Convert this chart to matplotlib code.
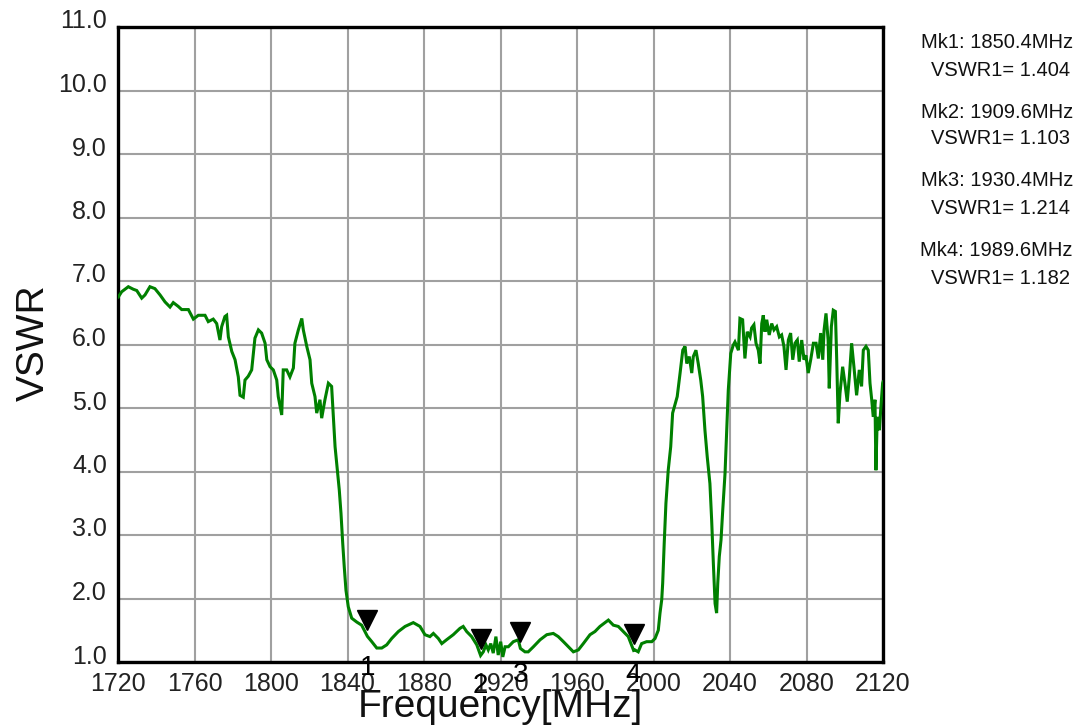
import matplotlib
matplotlib.use("Agg")
import matplotlib.pyplot as plt
import matplotlib.transforms as mtransforms

plt.rcParams['font.family'] = ['Liberation Sans', 'DejaVu Sans']

freq = [1720.2, 1721.9, 1725.4, 1728.0, 1729.8, 1732.4, 1734.1, 1736.7, 1739.3, 1742.0,
        1744.6, 1747.2, 1748.9, 1751.5, 1753.3, 1756.8, 1759.4, 1762.0, 1765.5, 1767.2,
        1769.8, 1771.6, 1773.3, 1774.2, 1775.9, 1776.8, 1777.7, 1779.5, 1781.2, 1782.9,
        1783.8, 1785.5, 1786.4, 1788.1, 1789.9, 1791.6, 1793.4, 1795.1, 1796.9, 1797.8,
        1799.5, 1801.2, 1803.0, 1803.8, 1805.6, 1806.4, 1808.2, 1809.9, 1811.7, 1812.5,
        1814.3, 1816.1, 1816.9, 1818.7, 1820.4, 1821.3, 1823.0, 1823.9, 1825.6, 1826.5,
        1828.2, 1830.0, 1831.7, 1832.6, 1833.5, 1834.7, 1835.7, 1836.6, 1837.5, 1838.3,
        1839.2, 1840.4, 1842.2, 1844.8, 1847.4, 1850.4, 1852.7, 1855.3, 1857.9, 1860.5,
        1863.1, 1866.6, 1870.1, 1874.4, 1877.9, 1880.5, 1883.1, 1884.9, 1887.5, 1889.3,
        1891.8, 1895.3, 1898.8, 1900.5, 1902.3, 1904.9, 1907.6, 1909.6, 1911.0, 1912.4,
        1913.6, 1914.9, 1916.2, 1917.6, 1918.8, 1920.1, 1921.2, 1922.4, 1924.1, 1926.7,
        1929.3, 1930.4, 1932.8, 1934.5, 1937.2, 1940.7, 1944.2, 1947.6, 1950.2, 1952.9,
        1955.5, 1958.1, 1960.7, 1963.3, 1966.8, 1969.4, 1972.0, 1974.6, 1976.4, 1979.0,
        1981.6, 1984.2, 1986.8, 1989.6, 1990.3, 1992.0, 1993.8, 1996.4, 1999.1, 2000.8,
        2002.5, 2003.4, 2004.3, 2004.8, 2005.6, 2006.5, 2007.7, 2009.0, 2010.0, 2011.2,
        2012.4, 2013.9, 2015.3, 2016.5, 2017.4, 2018.7, 2020.0, 2020.8, 2022.2, 2023.4,
        2024.7, 2025.7, 2026.9, 2028.1, 2029.5, 2030.4, 2031.3, 2032.2, 2033.0, 2033.6,
        2034.4, 2035.3, 2036.2, 2037.4, 2038.3, 2039.1, 2040.4, 2041.7, 2042.6, 2044.4,
        2045.2, 2046.6, 2047.8, 2049.0, 2050.5, 2051.3, 2052.5, 2053.6, 2054.8, 2055.7,
        2056.6, 2057.4, 2058.3, 2059.2, 2060.5, 2061.8, 2063.0, 2064.4, 2065.8, 2067.0,
        2068.2, 2069.3, 2070.5, 2071.7, 2072.8, 2074.0, 2075.2, 2076.2, 2077.5, 2078.7,
        2079.7, 2080.9, 2082.2, 2083.6, 2085.0, 2086.2, 2087.4, 2088.5, 2089.2, 2090.2,
        2091.3, 2091.9, 2093.0, 2094.0, 2095.1, 2095.8, 2096.6, 2097.5, 2098.9, 2100.1,
        2101.3, 2102.4, 2103.6, 2104.8, 2106.2, 2107.6, 2108.8, 2109.7, 2111.1, 2112.3,
        2113.2, 2114.1, 2114.9, 2115.8, 2116.3, 2117.0, 2118.1, 2118.8, 2119.8, 2120.0]

vswr = [6.75, 6.83, 6.91, 6.87, 6.85, 6.73, 6.78, 6.91, 6.88, 6.78,
        6.67, 6.59, 6.66, 6.60, 6.55, 6.55, 6.40, 6.46, 6.46, 6.36,
        6.40, 6.33, 6.07, 6.28, 6.44, 6.46, 6.12, 5.89, 5.76, 5.49,
        5.20, 5.17, 5.44, 5.50, 5.60, 6.10, 6.23, 6.18, 6.02, 5.76,
        5.65, 5.60, 5.44, 5.18, 4.89, 5.60, 5.60, 5.49, 5.63, 6.02,
        6.23, 6.41, 6.23, 5.97, 5.76, 5.39, 5.18, 4.92, 5.13, 4.84,
        5.13, 5.39, 5.34, 4.86, 4.39, 4.02, 3.71, 3.34, 2.87, 2.50,
        2.13, 1.87, 1.69, 1.63, 1.58, 1.404, 1.32, 1.22, 1.22, 1.27,
        1.37, 1.48, 1.56, 1.62, 1.56, 1.43, 1.40, 1.45, 1.37, 1.29,
        1.35, 1.43, 1.53, 1.56, 1.48, 1.40, 1.27, 1.103, 1.16, 1.27,
        1.19, 1.29, 1.14, 1.40, 1.11, 1.32, 1.08, 1.24, 1.24, 1.32,
        1.35, 1.214, 1.16, 1.16, 1.24, 1.35, 1.43, 1.45, 1.40, 1.32,
        1.24, 1.16, 1.19, 1.29, 1.43, 1.48, 1.56, 1.62, 1.66, 1.58,
        1.56, 1.48, 1.40, 1.182, 1.19, 1.16, 1.29, 1.32, 1.32, 1.37,
        1.50, 1.77, 1.98, 2.24, 2.87, 3.50, 4.02, 4.39, 4.92, 5.05,
        5.18, 5.55, 5.91, 5.97, 5.70, 5.81, 5.55, 5.81, 5.91, 5.70,
        5.44, 5.18, 4.65, 4.23, 3.81, 3.24, 2.55, 1.92, 1.77, 2.24,
        2.66, 2.92, 3.39, 3.97, 4.65, 5.28, 5.86, 5.99, 6.04, 5.91,
        6.41, 6.39, 5.78, 6.20, 6.12, 6.26, 6.31, 6.02, 5.91, 5.70,
        6.33, 6.46, 6.20, 6.39, 6.15, 6.33, 6.23, 6.28, 6.12, 6.15,
        5.97, 5.60, 6.07, 6.18, 5.76, 6.02, 6.07, 5.73, 6.07, 5.76,
        5.83, 5.55, 5.76, 6.02, 6.02, 5.78, 6.18, 5.76, 6.23, 6.49,
        6.07, 5.31, 6.28, 6.54, 6.52, 5.76, 4.76, 5.23, 5.65, 5.39,
        5.10, 5.49, 6.02, 5.65, 5.20, 5.60, 5.34, 5.91, 5.97, 5.91,
        5.39, 5.13, 4.86, 5.13, 4.02, 4.86, 4.65, 4.97, 5.39, 5.41]

marker_ids = ["1", "2", "3", "4"]
marker_freq = [1850.4, 1909.6, 1930.4, 1989.6]
marker_vswr = [1.404, 1.103, 1.214, 1.182]

x_ticks = [1720, 1760, 1800, 1840, 1880, 1920, 1960, 2000, 2040, 2080, 2120]
y_ticks = [1.0, 2.0, 3.0, 4.0, 5.0, 6.0, 7.0, 8.0, 9.0, 10.0, 11.0]

W, H = 1080, 728
fig = plt.figure(figsize=(W / 100, H / 100), dpi=100)
ax = fig.add_axes([118 / W, 1 - 662 / H, (883 - 118) / W, (662 - 27) / H])

ax.plot(freq, vswr, color='#008000', lw=2.2, solid_joinstyle='miter', zorder=3)

ax.set_xlim(1720, 2120)
ax.set_ylim(1.0, 11.0)
ax.set_xticks(x_ticks)
ax.set_yticks(y_ticks)
ax.set_xticklabels([str(t) for t in x_ticks])
ax.set_yticklabels([f"{t:.1f}" for t in y_ticks])
ax.tick_params(axis='both', length=0, labelsize=18, colors='#222222')
ax.tick_params(axis='x', pad=7)
ax.tick_params(axis='y', pad=8)
up = mtransforms.ScaledTranslation(0, 8 / 100, fig.dpi_scale_trans)
for lab in ax.get_yticklabels():
    lab.set_transform(lab.get_transform() + up)

ax.grid(True, color='#a0a0a0', lw=1.5)
ax.set_axisbelow(True)
for sp in ax.spines.values():
    sp.set_linewidth(2.4)
    sp.set_color('black')

# markers
tri_tr = mtransforms.offset_copy(ax.transData, fig=fig, x=0, y=16, units='dots')
for f, v in zip(marker_freq, marker_vswr):
    ax.plot([f], [v], marker='v', ms=15, color='black', transform=tri_tr,
            clip_on=False, zorder=5, ls='none')

label_dy = [-6, -24, -13, -13]
for mid, f, dy in zip(marker_ids, marker_freq, label_dy):
    tr = mtransforms.offset_copy(ax.transData, fig=fig, x=0, y=dy, units='dots')
    ax.text(f, 1.0, mid, transform=tr, ha='center', va='center', fontsize=20,
            color='black', clip_on=False, zorder=6)

fig.text(34 / W, 1 - 343 / H, "VSWR", rotation=90, ha='center', va='center',
         fontsize=28, color='#111111')
fig.text(500 / W, 1 - 717 / H, "Frequency[MHz]", ha='center', va='baseline',
         fontsize=28, color='#111111')

# marker readout
ys = [43, 70, 112, 139, 181, 209, 250, 278]
for i, (f, v) in enumerate(zip(marker_freq, marker_vswr)):
    fig.text(1073 / W, 1 - ys[2 * i] / H, f"Mk{i + 1}: {f:.1f}MHz", ha='right',
             va='center', fontsize=14.5, color='#111111')
    fig.text(1070 / W, 1 - ys[2 * i + 1] / H, f"VSWR1= {v:.3f}", ha='right',
             va='center', fontsize=14.5, color='#111111')

fig.savefig("out.png", dpi=100)
